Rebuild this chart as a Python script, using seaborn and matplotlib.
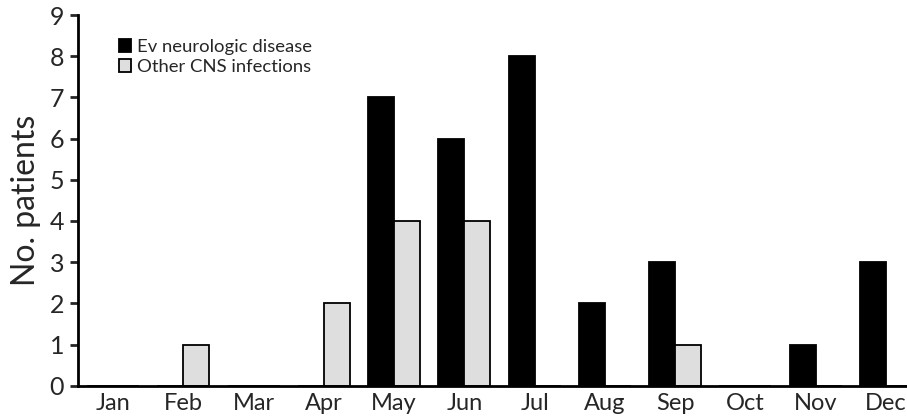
import pandas as pd
import matplotlib.pyplot as plt
import seaborn as sns

months = ['Jan', 'Feb', 'Mar', 'Apr', 'May', 'Jun',
          'Jul', 'Aug', 'Sep', 'Oct', 'Nov', 'Dec']
ev_neuro = [0, 0, 0, 0, 7, 6, 8, 2, 3, 0, 1, 3]
other_cns = [0, 1, 0, 2, 4, 4, 0, 0, 1, 0, 0, 0]
series_names = ['Ev neurologic disease', 'Other CNS infections']

df = pd.DataFrame({
    'Month': months * 2,
    'Patients': ev_neuro + other_cns,
    'Group': [series_names[0]] * len(months) + [series_names[1]] * len(months),
})

sns.set_style('white')
plt.rcParams['font.family'] = ['Lato', 'DejaVu Sans']

fig = plt.figure(figsize=(9.07, 4.17), dpi=100, facecolor='white')
ax = fig.add_axes([0.086, 0.075, 0.914, 0.889])

sns.barplot(data=df, x='Month', y='Patients', hue='Group', order=months,
            hue_order=series_names, palette=['black', '#dedede'],
            width=0.74, edgecolor='black', linewidth=1.3, ax=ax)

ax.set_ylim(0, 9)
ax.set_xlim(-0.5, 11.3)
ax.set_yticks(range(10))
ax.tick_params(axis='y', labelsize=18, length=6, width=2, direction='out', left=True, pad=4)
ax.tick_params(axis='x', labelsize=17, length=0, pad=5)
ax.set_xlabel('')
ax.set_ylabel('No. patients', fontsize=23, labelpad=6)

for side in ['top', 'right']:
    ax.spines[side].set_visible(False)
for side in ['left', 'bottom']:
    ax.spines[side].set_linewidth(2)
    ax.spines[side].set_color('black')

ax.legend(loc='upper left', bbox_to_anchor=(0.04, 0.955), frameon=False,
          fontsize=13.3, handlelength=0.7, handleheight=0.7, handletextpad=0.3,
          labelspacing=0.2, borderaxespad=0)

plt.savefig('out.png', dpi=100)
plt.close()
